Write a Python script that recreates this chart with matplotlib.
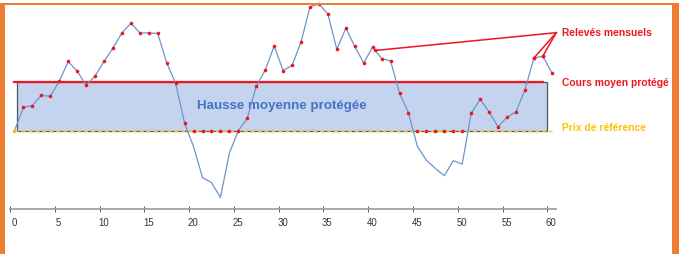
import matplotlib
matplotlib.use("Agg")
import matplotlib.pyplot as plt
import numpy as np
from matplotlib.patches import Rectangle
from matplotlib.transforms import ScaledTranslation

plt.rcParams["font.family"] = ["Liberation Sans", "DejaVu Sans"]

# monthly prices (month 0 = start at reference price)
months = np.arange(61)
prices = [100.0, 104.8, 105.2, 107.3, 107.1, 110.2, 114.3, 112.3, 109.4, 111.3,
          114.3, 117.1, 120.2, 122.2, 120.2, 120.2, 120.1, 114.0, 109.8, 101.5,
          96.7, 90.3, 89.3, 86.2, 95.4, 100.0, 102.6, 109.2, 112.5, 117.5,
          112.4, 113.5, 118.3, 125.6, 126.2, 124.1, 116.8, 121.2, 117.4, 114.0,
          117.3, 114.9, 114.4, 107.7, 103.7, 96.7, 93.9, 92.2, 90.7, 93.8,
          93.1, 103.6, 106.5, 103.9, 100.8, 102.8, 103.9, 108.4, 115.0, 115.4,
          112.0]
ref_price = 100.0
avg_price = 110.0
xticks = [0, 5, 10, 15, 20, 25, 30, 35, 40, 45, 50, 55, 60]

labels = {
    "releves": "Relevés mensuels",
    "moyen": "Cours moyen protégé",
    "ref": "Prix de référence",
    "band": "Hausse moyenne protégée",
}

RED = "#f0141e"
GOLD = "#ffc000"
BLUE_TXT = "#4472c4"

W, H, DPI = 679, 254, 100
fig = plt.figure(figsize=(W / DPI, H / DPI), dpi=DPI)
fig.patch.set_facecolor("white")

# axes placed in pixels: x-axis line at y=209, from x=10 to 556
ax_left, ax_right, ax_top, ax_bot = 10, 556, 0, 209.3
ax = fig.add_axes([ax_left / W, (H - ax_bot) / H, (ax_right - ax_left) / W, (ax_bot - ax_top) / H])
px_per_x = 8.955
px_per_y = 4.84
ax.set_xlim(0, (ax_right - ax_left) / px_per_x)
ax.set_ylim(ref_price - (ax_bot - 130.7) / px_per_y, ref_price + 130.7 / px_per_y)

x = months + 0.5
p = np.array(prices)
dots = np.maximum(p, ref_price)

# protected band
ax.add_patch(Rectangle((0.75, ref_price), 60.0 - 0.75, avg_price - ref_price,
                       facecolor="#c5d4ee", edgecolor="#4d5566", linewidth=0.9, zorder=1))
ax.plot([x[0], x[-1]], [ref_price, ref_price], color=GOLD, lw=1.0, ls=(0, (3, 2)), zorder=2)
ax.plot([x[0], x[-2]], [avg_price, avg_price], color=RED, lw=1.6, zorder=3)
ax.text(30.4, (ref_price + avg_price) / 2, labels["band"], color=BLUE_TXT, fontsize=9.6,
        fontweight="bold", ha="center", va="center", zorder=4)

# price curve and monthly readings
ax.plot(x, p, color="#6a96cc", lw=0.9, zorder=4, clip_on=False)
ax.plot(x[1:], dots[1:], "o", color=RED, ms=2.6, mec="none", zorder=5, clip_on=False)
ax.plot(x[0], ref_price, "o", color=GOLD, ms=2.6, mec="none", zorder=5)

# annotation lines to "Relevés mensuels"
src = (61.0, 120.25)
t = 0.3
targets = [(x[40] + t * (x[41] - x[40]), p[40] + t * (p[41] - p[40])),
           (x[58], p[58]), (x[59], p[59])]
for tx, ty in targets:
    ax.plot([src[0], tx], [src[1], ty], color=RED, lw=1.1, zorder=6, clip_on=False)
    ax.plot(tx, ty, "o", color=RED, ms=2.6, mec="none", zorder=6, clip_on=False)

lx = 61.6
ax.text(lx, 120.1, labels["releves"], color=RED, fontsize=7.4, fontweight="bold",
        va="center", ha="left", clip_on=False)
ax.text(lx, 109.8, labels["moyen"], color=RED, fontsize=7.4, fontweight="bold",
        va="center", ha="left", clip_on=False)
ax.text(lx, 100.5, labels["ref"], color=GOLD, fontsize=7.4, fontweight="bold",
        va="center", ha="left", clip_on=False)

# x axis
for s in ("top", "right", "left"):
    ax.spines[s].set_visible(False)
ax.spines["bottom"].set_color("#9a9a9a")
ax.spines["bottom"].set_linewidth(1.2)
ax.set_yticks([])
ax.set_xticks(xticks)
ax.tick_params(axis="x", direction="inout", length=4, width=0.7, color="#555555",
               labelsize=6.9, labelcolor="#333333", pad=4)
shift = ScaledTranslation(4 / DPI, 0, fig.dpi_scale_trans)
for lab in ax.get_xticklabels():
    lab.set_transform(lab.get_transform() + shift)
ax.patch.set_visible(False)

# orange frame (cropped at the bottom)
ORANGE = "#ee7d31"
for (x0, y0, w, h) in [(0, H - 4.7, W, 1.5), (0, 0, 4.7, H - 3.3), (672.3, 0, W - 672.3, H - 3.3)]:
    fig.patches.append(Rectangle((x0 / W, y0 / H), w / W, h / H, transform=fig.transFigure,
                                 facecolor=ORANGE, edgecolor="none", zorder=10))

fig.savefig("out.png", dpi=DPI, facecolor="white")
